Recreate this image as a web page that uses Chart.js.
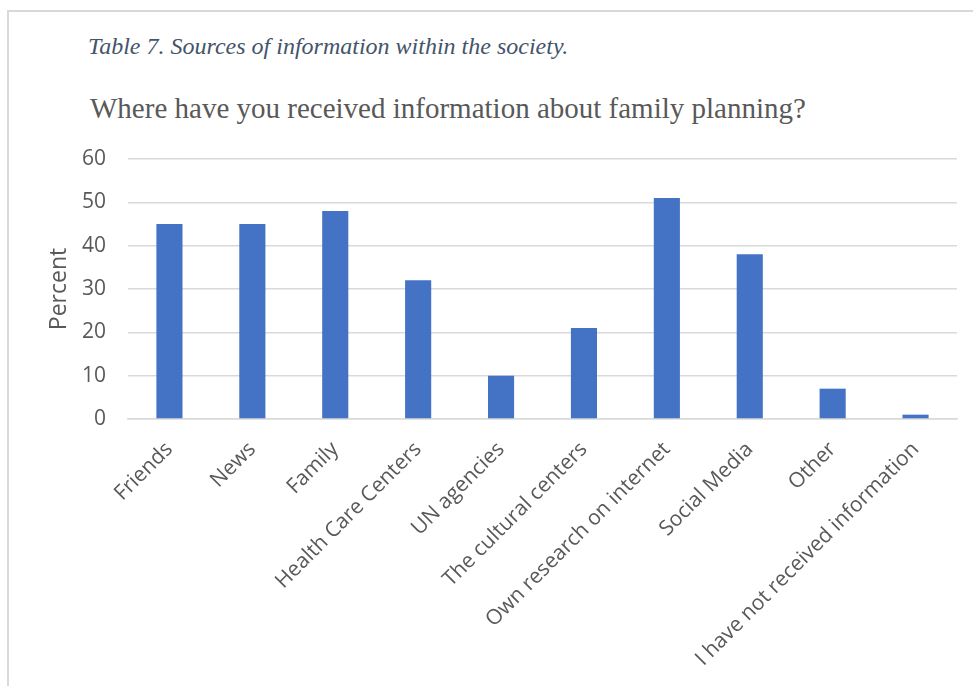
<!DOCTYPE html>
<html>
<head>
<meta charset="utf-8">
<script src="https://cdn.jsdelivr.net/npm/chart.js@4"></script>
<style>
  html, body { margin: 0; padding: 0; background: #fff; }
  body { width: 973px; height: 686px; position: relative; overflow: hidden; }
  #frame { position: absolute; left: 7px; top: 10px; width: 1100px; height: 800px; border-left: 2px solid #d9d9d9; border-top: 2px solid #d9d9d9; box-sizing: border-box; }
  #caption { position: absolute; left: 88px; top: 33px; font-family: "Liberation Serif", "Times New Roman", serif; font-style: italic; font-size: 24px; line-height: 1.15; color: #44546A; white-space: nowrap; }
  #title { position: absolute; left: 90px; top: 92px; font-family: "Liberation Serif", "Times New Roman", serif; font-size: 29px; line-height: 1.15; color: #595959; white-space: nowrap; }
  #wrap { position: absolute; left: 0; top: 0; width: 973px; height: 686px; }
</style>
</head>
<body>
<div id="frame"></div>
<div id="caption">Table 7. Sources of information within the society.</div>
<div id="title">Where have you received information about family planning?</div>
<div id="wrap"><canvas id="c" width="973" height="686"></canvas></div>
<script>
const categories = ["Friends", "News", "Family", "Health Care Centers", "UN agencies", "The cultural centers", "Own research on internet", "Social Media", "Other", "I have not received information"];
const percentValues = [45, 45, 48, 32, 10, 21, 51, 38, 7, 1];
const yTicks = [0, 10, 20, 30, 40, 50, 60];
const yAxisTitle = "Percent";

const FONT = "'Open Sans', sans-serif";
new Chart(document.getElementById('c'), {
  type: 'bar',
  data: {
    labels: categories,
    datasets: [{
      data: percentValues,
      backgroundColor: '#4472C4',
      borderWidth: 0,
      barPercentage: 0.315,
      categoryPercentage: 1.0
    }]
  },
  options: {
    responsive: false,
    animation: false,
    devicePixelRatio: 1,
    layout: { padding: { left: 42, right: 16, top: 159, bottom: 0 } },
    plugins: { legend: { display: false }, title: { display: false }, tooltip: { enabled: false } },
    scales: {
      y: {
        min: 0, max: 60,
        afterBuildTicks: (axis) => { axis.ticks = yTicks.map(v => ({ value: v })); },
        afterFit: (axis) => { axis.width = 86; },
        border: { display: false },
        grid: { color: '#d9d9d9', lineWidth: 1.5, drawTicks: false },
        ticks: { color: '#595959', font: { family: FONT, size: 21 }, padding: 22 },
        title: { display: true, text: yAxisTitle, color: '#595959', font: { family: FONT, size: 23 }, padding: { top: 4, bottom: 4 } }
      },
      x: {
        afterFit: (axis) => { axis.height = 267; },
        border: { display: true, color: '#d9d9d9', width: 1.5 },
        grid: { display: false, drawTicks: false },
        ticks: { color: '#595959', font: { family: FONT, size: 21 }, maxRotation: 45, minRotation: 45, padding: 18, autoSkip: false }
      }
    }
  }
});
</script>
</body>
</html>
